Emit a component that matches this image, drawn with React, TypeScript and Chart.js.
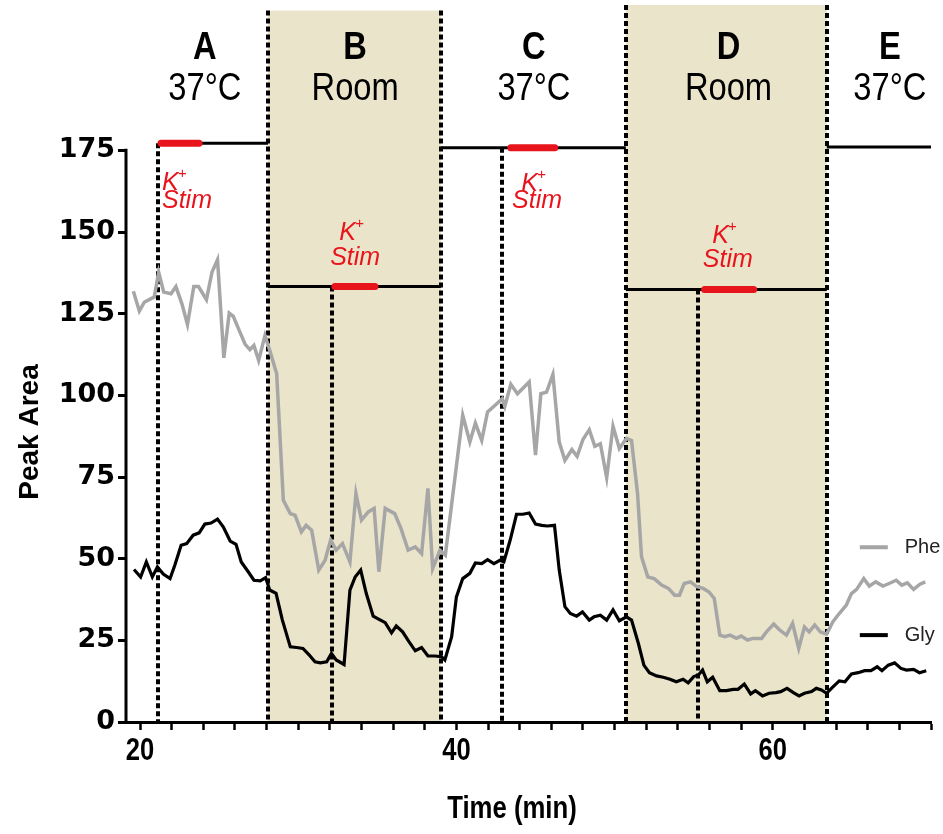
import React, { useEffect, useRef } from "react";
import { Chart, registerables } from "chart.js";

Chart.register(...registerables);

// ---------- Data ----------
const pheTime = [19.58, 19.96, 20.27, 20.7, 20.9, 21.18, 21.5, 21.96, 22.27, 22.65, 23.0, 23.4, 23.7, 24.2, 24.55, 24.9, 25.3, 25.64, 25.9, 26.27, 26.65, 26.95, 27.2, 27.5, 27.9, 28.2, 28.64, 29.06, 29.5, 29.8, 30.2, 30.5, 30.85, 31.3, 31.7, 32.05, 32.4, 32.8, 33.27, 33.65, 34.0, 34.43, 34.8, 35.1, 35.5, 36.1, 36.5, 36.95, 37.4, 37.8, 38.2, 38.5, 38.96, 39.3, 40.4, 40.85, 41.2, 41.6, 41.97, 42.43, 42.9, 43.06, 43.44, 43.86, 44.6, 45.0, 45.34, 45.7, 46.1, 46.5, 46.86, 47.3, 47.63, 48.0, 48.4, 48.75, 49.1, 49.5, 49.9, 50.3, 50.75, 51.07, 51.45, 51.7, 52.1, 52.5, 52.97, 53.4, 53.8, 54.1, 54.4, 54.8, 55.2, 55.6, 55.97, 56.3, 56.65, 56.97, 57.3, 57.7, 58.0, 58.4, 58.75, 59.3, 59.6, 60.06, 60.4, 60.86, 61.25, 61.64, 62.0, 62.3, 62.65, 63.0, 63.4, 63.8, 64.2, 64.65, 64.97, 65.3, 65.75, 66.1, 66.5, 66.97, 67.35, 67.8, 68.15, 68.5, 68.9, 69.3, 69.64];
const pheValues = [131.9, 125.8, 128.5, 129.6, 130.1, 137.7, 131.6, 131.1, 133.3, 128.0, 121.7, 133.3, 133.3, 129.3, 137.7, 141.5, 111.5, 125.2, 124.2, 119.9, 115.6, 114.0, 115.3, 110.7, 118.3, 113.8, 106.6, 67.9, 63.8, 63.3, 58.2, 60.2, 58.7, 46.5, 49.5, 55.7, 52.6, 54.6, 49.0, 69.9, 61.8, 64.3, 65.4, 46.0, 65.4, 63.8, 59.2, 52.6, 53.6, 51.6, 71.5, 47.0, 52.6, 51.1, 93.9, 85.7, 91.5, 86.2, 94.9, 96.9, 99.0, 96.6, 103.4, 100.5, 104.1, 81.7, 100.5, 101.0, 106.4, 85.7, 80.1, 83.4, 81.3, 86.5, 89.5, 84.4, 85.2, 74.8, 90.5, 83.7, 86.8, 86.2, 70.0, 50.6, 44.4, 43.9, 41.9, 40.9, 38.8, 38.8, 42.4, 42.9, 41.4, 40.9, 39.8, 37.8, 26.6, 26.1, 26.6, 25.6, 26.3, 25.1, 25.6, 25.6, 27.6, 30.0, 28.3, 26.6, 30.2, 22.5, 29.1, 27.6, 29.7, 27.6, 26.9, 30.7, 33.2, 35.8, 39.3, 40.6, 43.9, 41.6, 42.9, 41.6, 42.4, 43.4, 41.9, 42.6, 40.6, 42.2, 42.9];

const glyTime = [19.62, 20.04, 20.4, 20.78, 21.1, 21.47, 21.9, 22.2, 22.6, 22.95, 23.36, 23.74, 24.1, 24.49, 24.9, 25.27, 25.7, 26.07, 26.4, 26.84, 27.2, 27.6, 27.94, 28.2, 28.6, 29.0, 29.5, 29.9, 30.3, 30.7, 31.06, 31.4, 31.8, 32.1, 32.4, 32.9, 33.27, 33.6, 33.95, 34.3, 34.74, 35.2, 35.5, 35.9, 36.2, 36.6, 37.0, 37.4, 37.8, 38.2, 38.64, 39.06, 39.27, 39.7, 40.0, 40.4, 40.85, 41.2, 41.6, 41.97, 42.37, 42.75, 43.0, 43.4, 43.8, 44.2, 44.6, 45.0, 45.4, 45.74, 46.2, 46.5, 46.86, 47.2, 47.6, 47.97, 48.4, 48.7, 49.1, 49.5, 49.9, 50.3, 50.75, 51.07, 51.5, 51.85, 52.2, 52.65, 53.07, 53.5, 53.9, 54.33, 54.65, 55.0, 55.3, 55.56, 55.86, 56.2, 56.65, 57.07, 57.5, 57.8, 58.2, 58.6, 58.9, 59.35, 59.77, 60.2, 60.5, 60.9, 61.3, 61.66, 62.0, 62.45, 62.75, 63.07, 63.4, 63.77, 64.2, 64.56, 64.97, 65.4, 65.8, 66.2, 66.6, 66.9, 67.3, 67.7, 68.1, 68.45, 68.9, 69.27, 69.7];
const glyValues = [46.7, 44.4, 49.0, 44.4, 47.5, 45.3, 43.9, 48.0, 54.1, 54.6, 57.2, 57.9, 60.6, 60.9, 62.1, 59.7, 55.4, 54.4, 49.0, 46.0, 43.4, 43.2, 44.2, 40.4, 39.4, 31.2, 23.0, 22.8, 22.5, 20.5, 18.4, 18.1, 18.4, 21.0, 19.0, 17.6, 40.4, 44.4, 46.5, 39.4, 32.4, 31.2, 30.4, 27.3, 29.4, 27.6, 24.6, 21.8, 22.8, 20.2, 20.2, 20.0, 19.0, 26.1, 38.3, 43.9, 45.5, 48.7, 48.5, 49.7, 48.5, 49.5, 49.0, 55.7, 63.6, 63.6, 64.0, 60.6, 60.2, 60.0, 60.2, 46.5, 35.3, 33.2, 32.4, 33.7, 31.2, 32.2, 32.7, 31.2, 34.3, 31.0, 32.2, 31.2, 24.1, 17.4, 15.1, 14.1, 13.7, 13.1, 12.3, 13.1, 12.0, 13.9, 14.4, 15.9, 12.3, 13.7, 9.6, 9.6, 10.0, 10.0, 11.6, 8.6, 9.6, 8.0, 8.8, 9.0, 9.3, 10.3, 9.0, 8.0, 8.8, 9.3, 10.3, 9.8, 8.8, 10.6, 12.6, 12.3, 14.7, 15.1, 15.7, 15.7, 16.9, 15.7, 17.4, 18.1, 16.4, 15.9, 16.1, 15.1, 15.7];

const seriesNames = ["Phe", "Gly"];

// axis ticks
const xTickValues = [20, 22, 24, 26, 28, 30, 32, 34, 36, 38, 40, 42, 44, 46, 48, 50, 52, 54, 56, 58, 60, 62, 64, 66, 68, 70];
const xTickLabels = [20, 40, 60];
const yTickValues = [0, 25, 50, 75, 100, 125, 150, 175];

// phases
const phaseLetters = ["A", "B", "C", "D", "E"];
const phaseTemps = ["37°C", "Room", "37°C", "Room", "37°C"];
const phaseLabelX = [24.1, 33.6, 44.9, 57.2, 67.4];
const phaseStart = [21.14, 28.09, 39.02, 50.71, 63.41];
const phaseEnd = [28.09, 39.02, 50.71, 63.41, 70];
const phaseLevel = [177.2, 133.3, 175.8, 132.4, 176.0];
const roomPeriods = [[28.09, 39.02], [50.71, 63.41]];
const roomTop = [217.8, 219.5];
const boundaries = [28.09, 39.02, 50.71, 63.41];
const boundaryTop = [217.8, 217.8, 219.5, 219.5];

// K+ stimulation
const stimStart = [21.14, 32.13, 43.25, 55.5];
const stimEnd = [23.92, 35.04, 46.41, 58.98];
const stimLine = [21.14, 32.13, 42.87, 55.26];
const stimLevel = [177.2, 133.3, 175.8, 132.4];
const stimKX = [22.2, 33.4, 44.9, 56.97];
const stimKY = [165.1, 149.8, 164.8, 148.9];
const stimWordX = [22.97, 33.6, 45.1, 57.16];
const stimWordY = [159.6, 141.9, 159.6, 141.3];

const SHADE = "#EAE4CA";
const RED = "#E8141C";
const PHE_COLOR = "#A6A6A6";
const SANS = '"Liberation Sans", Arial, sans-serif';

function scaledText(ctx: any, text: string, px: number, py: number, sx: number) {
  ctx.save();
  ctx.translate(px, py);
  ctx.scale(sx, 1);
  ctx.fillText(text, 0, 0);
  ctx.restore();
}

const overlay = {
  id: "overlay",
  beforeDraw(chart: any) {
    const { ctx, scales } = chart;
    const x = scales.x, y = scales.y;
    ctx.save();
    ctx.fillStyle = SHADE;
    roomPeriods.forEach(([a, b], i) => {
      const x0 = x.getPixelForValue(a), x1 = x.getPixelForValue(b);
      const y0 = y.getPixelForValue(roomTop[i]), y1 = y.getPixelForValue(0);
      ctx.fillRect(x0, y0, x1 - x0, y1 - y0);
    });
    ctx.strokeStyle = "#000";
    ctx.lineWidth = 4;
    ctx.setLineDash([5, 3]);
    const snap = (v: number) => Math.round(v);
    boundaries.forEach((b, i) => {
      const px = snap(x.getPixelForValue(b));
      ctx.beginPath();
      ctx.moveTo(px, y.getPixelForValue(boundaryTop[i]));
      ctx.lineTo(px, y.getPixelForValue(0));
      ctx.stroke();
    });
    stimLine.forEach((s, i) => {
      const px = snap(x.getPixelForValue(s));
      ctx.beginPath();
      ctx.moveTo(px, y.getPixelForValue(stimLevel[i]));
      ctx.lineTo(px, y.getPixelForValue(0));
      ctx.stroke();
    });
    ctx.restore();
  },
  afterDatasetsDraw(chart: any) {
    const { ctx, scales } = chart;
    const x = scales.x, y = scales.y;
    ctx.save();
    // phase level lines
    ctx.strokeStyle = "#000";
    ctx.lineWidth = 3;
    phaseStart.forEach((s, i) => {
      const py = y.getPixelForValue(phaseLevel[i]);
      ctx.beginPath();
      ctx.moveTo(x.getPixelForValue(s), py);
      ctx.lineTo(x.getPixelForValue(phaseEnd[i]), py);
      ctx.stroke();
    });
    // red stim bars
    ctx.strokeStyle = RED;
    ctx.lineWidth = 7;
    ctx.lineCap = "round";
    stimStart.forEach((s, i) => {
      const py = y.getPixelForValue(stimLevel[i]);
      ctx.beginPath();
      ctx.moveTo(x.getPixelForValue(s) + 3, py);
      ctx.lineTo(x.getPixelForValue(stimEnd[i]) - 3, py);
      ctx.stroke();
    });
    // K+ Stim labels
    ctx.fillStyle = RED;
    ctx.textBaseline = "middle";
    stimKX.forEach((kx, i) => {
      ctx.font = `italic 25px ${SANS}`;
      const kw = ctx.measureText("K").width;
      ctx.font = `italic 15px ${SANS}`;
      const pw = ctx.measureText("+").width;
      const cx = x.getPixelForValue(kx);
      const cy = y.getPixelForValue(stimKY[i]);
      const left = cx - (kw + pw) / 2;
      ctx.textAlign = "left";
      ctx.font = `italic 25px ${SANS}`;
      ctx.fillText("K", left, cy);
      ctx.font = `italic 15px ${SANS}`;
      ctx.fillText("+", left + kw - 1, cy - 9);
      ctx.textAlign = "center";
      ctx.font = `italic 25px ${SANS}`;
      ctx.fillText("Stim", x.getPixelForValue(stimWordX[i]), y.getPixelForValue(stimWordY[i]));
    });
    // phase labels
    ctx.fillStyle = "#000";
    ctx.textAlign = "center";
    phaseLetters.forEach((l, i) => {
      const px = x.getPixelForValue(phaseLabelX[i]);
      ctx.font = `bold 38px ${SANS}`;
      scaledText(ctx, l, px, y.getPixelForValue(206.2), 0.86);
      ctx.font = `38px ${SANS}`;
      scaledText(ctx, phaseTemps[i], px, y.getPixelForValue(193.5), 0.86);
    });
    ctx.restore();
  },
  afterDraw(chart: any) {
    const { ctx, scales, chartArea } = chart;
    const x = scales.x, y = scales.y;
    ctx.save();
    // y axis line (0..175)
    ctx.strokeStyle = "#000";
    ctx.lineWidth = 3;
    ctx.beginPath();
    ctx.moveTo(chartArea.left, y.getPixelForValue(0) + 1.5);
    ctx.lineTo(chartArea.left, y.getPixelForValue(175) - 1.5);
    ctx.stroke();
    // x tick labels (condensed, from the scale's ticks)
    ctx.fillStyle = "#000";
    ctx.textAlign = "center";
    ctx.textBaseline = "middle";
    ctx.font = `bold 32px ${SANS}`;
    x.ticks.forEach((t: any) => {
      if (xTickLabels.includes(t.value)) {
        scaledText(ctx, String(t.value), x.getPixelForValue(t.value), chartArea.bottom + 29, 0.8);
      }
    });
    // legend
    const legendY = [53.5, 26.6];
    const legendColors = [PHE_COLOR, "#000"];
    chart.data.datasets.forEach((ds: any, i: number) => {
      const py = y.getPixelForValue(legendY[i]);
      ctx.strokeStyle = legendColors[i];
      ctx.lineWidth = 4;
      ctx.beginPath();
      ctx.moveTo(x.getPixelForValue(65.5), py);
      ctx.lineTo(x.getPixelForValue(67.27), py);
      ctx.stroke();
      ctx.fillStyle = "#222";
      ctx.font = `20px ${SANS}`;
      ctx.textAlign = "left";
      ctx.textBaseline = "middle";
      ctx.fillText(ds.label, x.getPixelForValue(68.34), py);
    });
    // axis titles
    ctx.fillStyle = "#000";
    ctx.textAlign = "center";
    ctx.textBaseline = "middle";
    ctx.font = `bold 31px ${SANS}`;
    scaledText(ctx, "Time (min)", chartArea.left + 386, chartArea.bottom + 87, 0.83);
    ctx.save();
    ctx.translate(30, 432);
    ctx.rotate(-Math.PI / 2);
    ctx.font = `bold 28px ${SANS}`;
    ctx.fillText("Peak Area", 0, 0);
    ctx.restore();
    ctx.restore();
  },
};

export default function App() {
  const canvasRef = useRef<HTMLCanvasElement | null>(null);
  useEffect(() => {
    const canvas = canvasRef.current;
    if (!canvas) return;
    const chart = new Chart(canvas, {
      type: "line",
      data: {
        datasets: [
          {
            label: seriesNames[0],
            data: pheTime.map((t, i) => ({ x: t, y: pheValues[i] })),
            borderColor: PHE_COLOR,
            borderWidth: 3.5,
            pointRadius: 0,
            tension: 0,
            fill: false,
          },
          {
            label: seriesNames[1],
            data: glyTime.map((t, i) => ({ x: t, y: glyValues[i] })),
            borderColor: "#000",
            borderWidth: 3.2,
            pointRadius: 0,
            tension: 0,
            fill: false,
          },
        ],
      },
      options: {
        responsive: false,
        animation: false,
        layout: { padding: { left: 0, right: 12, top: 5, bottom: 0 } },
        plugins: { legend: { display: false }, tooltip: { enabled: false } },
        scales: {
          x: {
            type: "linear",
            min: 19.115,
            max: 70,
            border: { display: true, width: 3, color: "#000" },
            grid: { drawOnChartArea: false, drawTicks: true, tickLength: 8, tickWidth: 2.5, tickColor: "#000" },
            ticks: { display: false, autoSkip: false },
            afterBuildTicks: (s: any) => {
              s.ticks = xTickValues.map((v) => ({ value: v }));
            },
            afterFit: (s: any) => {
              s.height = 112;
              s.paddingLeft = 0;
              s.paddingRight = 0;
            },
          },
          y: {
            type: "linear",
            min: 0,
            max: 219.5,
            border: { display: false },
            grid: { drawOnChartArea: false, drawTicks: true, tickLength: 8, tickWidth: 3, tickColor: "#000" },
            ticks: {
              color: "#000",
              padding: 3,
              font: { family: '"DejaVu Sans", sans-serif', weight: "bold", size: 27 },
            },
            afterBuildTicks: (s: any) => {
              s.ticks = yTickValues.map((v) => ({ value: v }));
            },
            afterFit: (s: any) => {
              s.width = 126;
              s.paddingTop = 0;
              s.paddingBottom = 0;
            },
          },
        },
      },
      plugins: [overlay],
    });
    return () => chart.destroy();
  }, []);
  return (
    <div style={{ position: "absolute", left: 0, top: 0, width: 943, height: 834, background: "#fff" }}>
      <canvas ref={canvasRef} width={943} height={834} style={{ display: "block" }} />
    </div>
  );
}
